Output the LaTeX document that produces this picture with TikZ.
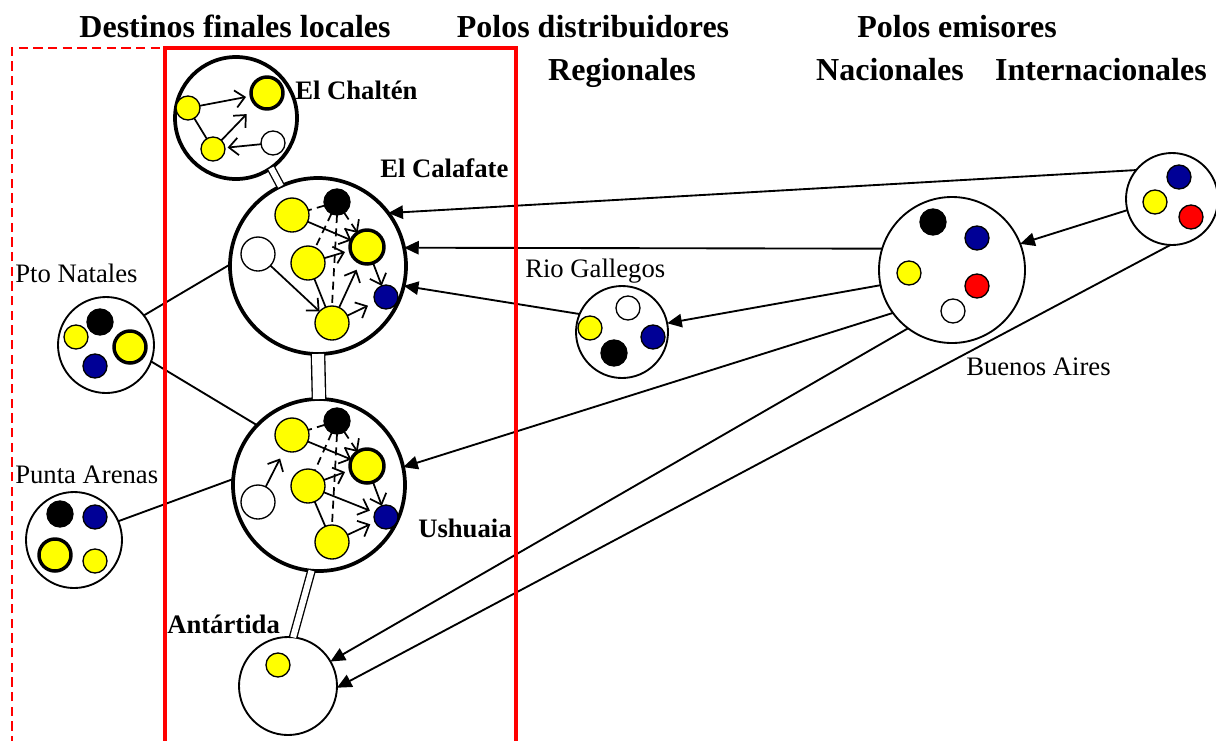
\documentclass[tikz,border=0pt]{standalone}
\usepackage{fontspec}
\setmainfont{Liberation Serif}
\usetikzlibrary{arrows.meta}
\definecolor{yel}{RGB}{255,255,0}
\definecolor{nav}{RGB}{0,0,150}
\definecolor{rd}{RGB}{255,0,0}
\begin{document}
\begin{tikzpicture}[x=0.75pt,y=-0.75pt,
  circ/.style={circle,draw=black,inner sep=0pt,outer sep=0pt,minimum size=#1*1.5pt},
  bigc/.style={circ=#1,line width=2.8pt,fill=white},
  thinc/.style={circ=#1,line width=1.4pt,fill=white},
  ydot/.style={circ=#1,line width=1pt,fill=yel},
  ythick/.style={circ=#1,line width=2.6pt,fill=yel},
  ndot/.style={circ=#1,line width=1pt,fill=nav},
  bdot/.style={circ=#1,line width=1pt,fill=black},
  wdot/.style={circ=#1,line width=1pt,fill=white},
  rdot/.style={circ=#1,line width=1pt,fill=rd},
  arr/.style={-{Straight Barb[length=7pt,width=13pt]},line width=1.3pt},
  darr/.style={arr,dash pattern=on 6pt off 4pt},
  dln/.style={line width=1.3pt,dash pattern=on 6pt off 4pt},
  ln/.style={line width=1.3pt},
  conn/.style={-{Triangle[length=11pt,width=10pt]},line width=1.4pt},
  plain/.style={line width=1.4pt},
  dbl/.style={double=white,double distance=#1,line width=1pt},
  ttl/.style={font=\fontsize{24}{28}\selectfont\bfseries,anchor=base},
  blab/.style={font=\fontsize{20}{24}\selectfont\bfseries,anchor=base west,inner sep=0pt},
  rlab/.style={font=\fontsize{20}{24}\selectfont,anchor=base west,inner sep=0pt}
]
\useasboundingbox (0,0) rectangle (1216,740);

% titles
\node[ttl] (t1) at (235,37) {Destinos finales locales};
\node[ttl] (t2) at (593,37) {Polos distribuidores};
\node[ttl] (t3) at (957,37) {Polos emisores};
\node[ttl] (t4) at (622,80) {Regionales};
\node[ttl] (t5) at (890,80) {Nacionales};
\node[ttl] (t6) at (1101,80) {Internacionales};

% big circles
\node[bigc=61] (chal) at (236,118) {};
\node[bigc=88] (cal) at (318,266) {};
\node[bigc=86] (ush) at (319,485) {};
\node[thinc=48] (pn) at (106,345) {};
\node[thinc=48] (pa) at (74,540) {};
\node[thinc=46] (rg) at (622,332) {};
\node[thinc=73] (ba) at (952,270) {};
\node[thinc=46] (int) at (1172,199) {};
\node[thinc=49] (ant) at (288,686) {};

% labels
\node[blab] (lchal) at (295,99) {El Chaltén};
\node[blab] (lcal) at (380,177) {El Calafate};
\node[blab] (lush) at (418,537) {Ushuaia};
\node[blab] (lant) at (167,633) {Antártida};
\node[rlab] (lpn) at (15,282) {Pto Natales};
\node[rlab] (lpa) at (15,483) {Punta Arenas};
\node[rlab] (lrg) at (525,277) {Rio Gallegos};
\node[rlab] (lba) at (966,375) {Buenos Aires};

% El Chalten inner
\node[ydot=12] (c1) at (188,108) {};
\node[ythick=16] (c2) at (267,93) {};
\node[ydot=12] (c3) at (213,149) {};
\node[wdot=12] (c4) at (273,143) {};
\draw[arr,shorten >=4pt] (c1) -- (c2);
\draw[arr,shorten >=10pt] (c3) -- (c2);
\draw[arr,shorten >=2pt] (c4) -- (c3);
\draw[ln] (c1) -- (c3);

% El Calafate inner
\node[bdot=13] (kb) at (337,202) {};
\node[ydot=17] (ka) at (292,215) {};
\node[wdot=17] (kw) at (258,254) {};
\node[ydot=17] (kyb) at (308,263) {};
\node[ythick=17] (kbig) at (367,247) {};
\node[ndot=12] (kn) at (386,297) {};
\node[ydot=17] (kyc) at (332,323) {};
\coordinate (kp) at (345,252);
\draw[arr] (ka) -- (kbig);
\draw[arr] (kyb) -- (kp);
\draw[arr,shorten >=6pt] (kyc) -- (kbig);
\draw[arr,shorten >=6pt] (kyc) -- (kn);
\draw[arr] (kw) -- (kyc);
\draw[ln] (kyb) -- (kyc);
\draw[arr] (kbig) -- (kn);
\draw[dln] (kb) -- (ka);
\draw[dln] (kb) -- (kyb);
\draw[darr] (kb) -- (kbig);
\draw[dln] (kb.south) -- (kyc.north);

% Ushuaia inner
\node[bdot=13] (ub) at (337,421) {};
\node[ydot=17] (ua) at (292,435) {};
\node[wdot=17] (uw) at (258,502) {};
\node[ydot=17] (uyb) at (308,486) {};
\node[ythick=17] (ubig) at (367,466) {};
\node[ndot=12] (un) at (386,517) {};
\node[ydot=17] (uyc) at (332,542) {};
\coordinate (up) at (345,472);
\draw[arr,shorten >=7pt] (uw) -- (ua);
\draw[arr] (ua) -- (ubig);
\draw[arr] (uyb) -- (up);
\draw[arr,shorten >=4pt] (uyb) -- (un);
\draw[arr,shorten >=4pt] (uyc) -- (un);
\draw[ln] (uyb) -- (uyc);
\draw[arr] (ubig) -- (un);
\draw[dln] (ub) -- (ua);
\draw[dln] (ub) -- (uyb);
\draw[darr] (ub) -- (ubig);
\draw[dln] (ub.south) -- (uyc.north);

% Pto Natales inner
\node[bdot=13] (pn1) at (100,322) {};
\node[ydot=12] (pn2) at (76,337) {};
\node[ythick=16] (pn3) at (130,347) {};
\node[ndot=12] (pn4) at (95,366) {};

% Punta Arenas inner
\node[bdot=13] (pa1) at (60,514) {};
\node[ndot=12] (pa2) at (95,517) {};
\node[ythick=16] (pa3) at (55,555) {};
\node[ydot=12] (pa4) at (95,561) {};

% Rio Gallegos inner
\node[wdot=12] (rg1) at (628,308) {};
\node[ydot=12] (rg2) at (590,328) {};
\node[ndot=12] (rg3) at (653,337) {};
\node[bdot=13] (rg4) at (614,353) {};

% Buenos Aires inner
\node[bdot=13] (ba1) at (933,222) {};
\node[ndot=12] (ba2) at (977,238) {};
\node[ydot=12] (ba3) at (909,273) {};
\node[rdot=12] (ba4) at (977,286) {};
\node[wdot=12] (ba5) at (953,311) {};

% Internacional inner
\node[ndot=12] (in1) at (1179,177) {};
\node[ydot=12] (in2) at (1155,202) {};
\node[rdot=12] (in3) at (1191,217) {};

% Antartida inner
\node[ydot=12] (an1) at (278,665) {};

% double links
\draw[dbl=4.5pt] (chal.-55) -- (cal.115);
\draw[dbl=9pt] (cal.south) -- (ush.north);
\draw[dbl=4.5pt] (ush.-95) -- (ant.84);

% plain links
\draw[plain] (pn.38) -- (cal.179);
\draw[plain] (pn.-20) -- (ush.136);
\draw[plain] (pa.23) -- (ush.176);

% arrows between poles
\draw[conn] (int.141) -- (cal.37);
\draw[conn] (int.194) -- (ba.21);
\draw[conn] (ba.163) -- (cal.12);
\draw[conn] (ba.192) -- (rg.11);
\draw[conn] (rg.157) -- (cal.-13);
\draw[conn] (ba.216) -- (ush.12);
\draw[conn] (ba.233) -- (ant.30);
\draw[conn] (int.268) -- (ant.-2);

% frames
\coordinate (r1) at (165,760);
\coordinate (r2) at (165,48);
\coordinate (r3) at (516,48);
\coordinate (r4) at (516,760);
\coordinate (d1) at (12,760);
\coordinate (d2) at (12,48);
\draw[rd,line width=3pt] (r1) -- (r2) -- (r3) -- (r4);
\draw[rd,line width=1.6pt,dash pattern=on 7pt off 4pt] (d1) -- (d2) -- (r2);
\end{tikzpicture}
\end{document}
